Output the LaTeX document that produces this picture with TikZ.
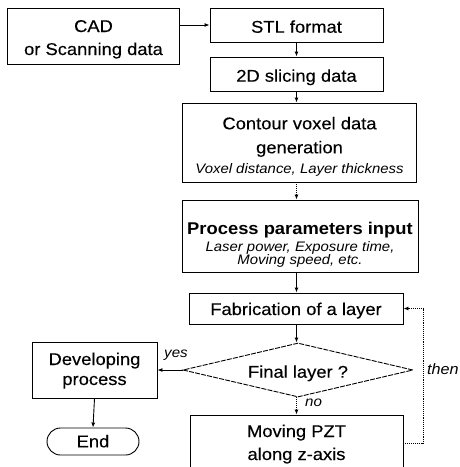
\documentclass[tikz,border=0pt]{standalone}
\usepackage{fontspec}
\setmainfont{Liberation Sans}[FakeStretch=1.08,UprightFeatures={FakeBold=0.25}]
\usetikzlibrary{arrows.meta,shapes.geometric,shapes.misc}
\newcommand\mfs{\fontsize{17}{23}\selectfont}
\newcommand\ifs{\fontsize{13.8}{15}\selectfont\itshape}
\newcommand\tstrut[1]{\rule{0pt}{#1pt}}
\newcommand\bstrut[1]{\rule[-#1pt]{0pt}{#1pt}}
\begin{document}
\begin{tikzpicture}[x=1pt,y=-1pt,
  box/.style={draw,line width=0.9pt,inner sep=0pt,align=center,font=\mfs},
  arr/.style={line width=0.9pt,-{Latex[length=5pt,width=4pt]}},
  lbl/.style={inner sep=0pt,font=\fontsize{14}{16}\selectfont\itshape}]
\clip (0,0) rectangle (460,467);
\fill[white] (0,0) rectangle (460,467);
\coordinate (col) at (296.5,0);
\coordinate (loopx) at (423,0);
\node[box,minimum width=172,minimum height=56] (cad) at (93.5,36) {\tstrut{19}CAD\\\bstrut{4}or Scanning data};
\node[box,minimum width=173,minimum height=34] (stl) at (296.5,25) {\tstrut{19.4}\bstrut{4}STL format};
\node[box,minimum width=173,minimum height=34] (twod) at (296.5,74) {\tstrut{19.4}\bstrut{4}2D slicing data};
\node[box,minimum width=234,minimum height=79] (contour) at (299.5,142.5) {\tstrut{21.6}Contour voxel data\\[1pt]generation\\[-3pt]{\ifs\bstrut{4}Voxel distance, Layer thickness}};
\node[box,minimum width=236,minimum height=72] (process) at (300,236) {\tstrut{31.6}\bfseries Process parameters input\\[-6.6pt]{\ifs Laser power, Exposure time,}\\[-9.4pt]{\ifs\bstrut{4}Moving speed, etc.}};
\node[box,minimum width=214,minimum height=31] (fab) at (296,308.5) {\tstrut{17}\bstrut{4}Fabrication of a layer};
\node[box,shape=diamond,aspect=4.26,minimum width=230,minimum height=54,dash pattern=on 5pt off 1.2pt] (dia) at (298,370) {\tstrut{19.4}\bstrut{4}Final layer ?};
\node[box,minimum width=125,minimum height=56] (dev) at (94.5,370) {\tstrut{14}Developing\\[-3pt]\bstrut{4}process};
\node[box,shape=rounded rectangle,minimum width=92,minimum height=27] (end) at (93,441.5) {\tstrut{15.6}\bstrut{4}End};
\node[box,minimum width=213,minimum height=57] (moving) at (296.5,443.5) {\tstrut{14}Moving PZT\\\bstrut{4}along z-axis};
\draw[arr] (cad.east |- stl.west) -- (stl.west);
\draw[arr] (stl.south -| col) -- (twod.north -| col);
\draw[arr] (twod.south -| col) -- (contour.north -| col);
\draw[arr,densely dotted] (contour.south -| col) -- (process.north -| col);
\draw[arr] (process.south -| col) -- (fab.north -| col);
\draw[arr] (fab.south -| col) -- (dia.north -| col);
\draw[arr,densely dotted] (dia.south -| col) -- (moving.north -| col);
\node[lbl,anchor=west] (no) at (305,403) {no};
\draw[arr] (dia.west) -- (dev.east);
\node[lbl] (yes) at (176,355) {yes};
\draw[arr] (dev.south) -- (end.north);
\draw[arr,densely dotted] (moving.east) -- (moving.east -| loopx) -- (fab.east -| loopx) -- (fab.east);
\node[lbl,anchor=west,font=\fontsize{15}{16}\selectfont\itshape] (then) at (427,369) {then};
\end{tikzpicture}
\end{document}
